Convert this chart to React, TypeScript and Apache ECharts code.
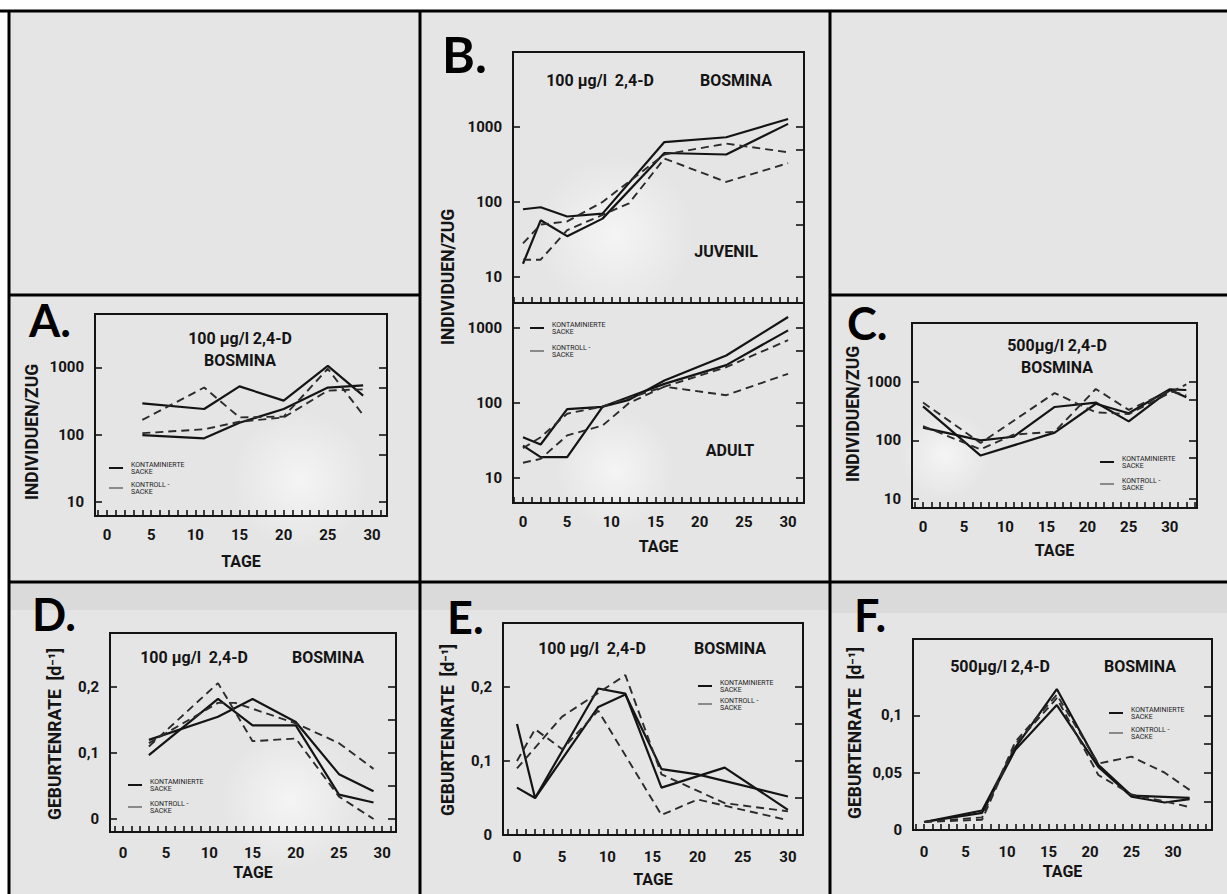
import React, { useEffect, useRef } from 'react';
import * as echarts from 'echarts';

const W = 1227;
const H = 894;
const FONT = "Roboto, 'DejaVu Sans', sans-serif";
const INK = '#141414';

// legend entries
const KONT = 'KONTAMINIERTE\nSACKE';
const KONTR = 'KONTROLL -\nSACKE';

// day axis
const dayLabels = [0, 5, 10, 15, 20, 25, 30];
const dayTicks = [-1, 0, 1, 2, 3, 4, 5, 6, 7, 8, 9, 10, 11, 12, 13, 14, 15, 16, 17, 18, 19, 20, 21, 22, 23, 24, 25, 26, 27, 28, 29, 30, 31, 32, 33, 34];

// count axes (Individuen/Zug, logarithmic)
const countLabels = [10, 100, 1000];
const countRightTicks = [10, 50, 100, 500, 1000];

// birth-rate axes (Geburtenrate)
const rateLabelsDE = [0, 0.1, 0.2];
const rateRightTicksD = [0, 0.05, 0.1, 0.15, 0.2];
const rateRightTicksE = [0.05, 0.1, 0.15, 0.2];
const rateLabelsF = [0, 0.05, 0.1];
const rateRightTicksF = [0.025, 0.05, 0.075, 0.1, 0.125];

// A: 100 µg/l, Bosmina, Individuen/Zug
const daysA = [4, 11, 15, 20, 25, 29];
const aKont1 = [290, 240, 520, 320, 1050, 380];
const aKont2 = [98, 88, 150, 240, 500, 540];
const aKontr1 = [165, 500, 180, 185, 950, 195];
const aKontr2 = [105, 120, 155, 180, 450, 470];

// B: 100 µg/l, Bosmina, juvenil / adult
const daysB = [0, 2, 5, 9, 12, 16, 23, 30];
const bJuvKont1 = [80, 85, 64, 70, null, 630, 730, 1280];
const bJuvKont2 = [15, 57, 35, 60, null, 450, 430, 1100];
const bJuvKontr1 = [28, 50, 55, 100, null, 430, 600, 460];
const bJuvKontr2 = [17, 17, 42, null, 96, 380, 185, 330];
const bAdKont1 = [35, 28, 83, 89, 110, 200, 430, 1400];
const bAdKont2 = [27, 19, 19, 89, null, 180, 320, 930];
const bAdKontr1 = [25, 35, 72, 90, null, 165, 300, 690];
const bAdKontr2 = [16, 18, 37, 50, 100, 165, 127, 245];

// C: 500 µg/l, Bosmina, Individuen/Zug
const daysC = [0, 7, 11, 16, 21, 25, 30, 32];
const cKont1 = [165, 100, 115, 370, 440, 210, 720, 540];
const cKont2 = [380, 55, null, 135, 420, 290, 740, 720];
const cKontr1 = [440, 90, null, 640, 300, 280, null, 900];
const cKontr2 = [175, 70, 125, 140, 750, 330, 700, 580];

// D: 100 µg/l, Geburtenrate
const daysD = [3, 11, 13, 15, 20, 25, 29];
const dKont1 = [0.097, 0.182, null, 0.142, 0.142, 0.037, 0.025];
const dKont2 = [0.12, 0.155, null, 0.182, 0.147, 0.068, 0.042];
const dKontr1 = [0.11, 0.206, null, 0.118, 0.122, 0.034, 0.0];
const dKontr2 = [0.115, 0.176, 0.176, null, 0.145, 0.115, 0.076];

// E: 100 µg/l, Geburtenrate
const daysE = [0, 2, 5, 9, 12, 16, 20, 23, 30];
const eKont1 = [0.15, 0.05, null, 0.198, 0.191, 0.064, null, 0.091, 0.034];
const eKont2 = [0.064, 0.05, null, 0.173, 0.19, 0.089, 0.082, null, 0.052];
const eKontr1 = [0.1, 0.143, 0.116, 0.168, null, 0.027, 0.048, null, 0.02];
const eKontr2 = [0.09, null, 0.16, null, 0.216, 0.082, null, 0.043, 0.032];

// F: 500 µg/l, Geburtenrate
const daysF = [0, 7, 11, 16, 21, 25, 29, 32];
const fKont1 = [0.007, 0.017, 0.072, 0.123, 0.057, 0.03, null, 0.028];
const fKont2 = [0.007, 0.015, 0.07, 0.109, 0.055, 0.029, 0.024, 0.027];
const fKontr1 = [0.007, 0.011, 0.077, 0.118, 0.058, 0.064, 0.05, 0.035];
const fKontr2 = [0.007, 0.009, 0.075, 0.115, 0.048, 0.031, 0.025, 0.02];

type Panel = {
  grid: { left: number; top: number; width: number; height: number };
  x: [number, number];
  y: [number, number];
  log: boolean;
  yLabels: number[];
  yRight: number[];
  xLabels: boolean;
  labelMargin: number;
  nameGap: number;
  days: number[];
  lines: [string, boolean, (number | null)[]][];
};

const lg = (v: number) => Math.log10(v);

const panels: Panel[] = [
  {
    grid: { left: 95, top: 314, width: 292, height: 202 }, x: [-1.36, 31.7], y: [0.791, 3.791], log: true,
    yLabels: countLabels, yRight: countRightTicks, xLabels: true, labelMargin: 11, nameGap: 37, days: daysA,
    lines: [[KONT, false, aKont1], [KONT, false, aKont2], [KONTR, true, aKontr1], [KONTR, true, aKontr2]],
  },
  {
    grid: { left: 513, top: 52, width: 291, height: 251 }, x: [-1.13, 31.8], y: [0.653, 4.0], log: true,
    yLabels: countLabels, yRight: countRightTicks, xLabels: false, labelMargin: 11, nameGap: 35, days: daysB,
    lines: [[KONT, false, bJuvKont1], [KONT, false, bJuvKont2], [KONTR, true, bJuvKontr1], [KONTR, true, bJuvKontr2]],
  },
  {
    grid: { left: 513, top: 303, width: 291, height: 200 }, x: [-1.13, 31.8], y: [0.667, 3.333], log: true,
    yLabels: countLabels, yRight: countRightTicks, xLabels: true, labelMargin: 11, nameGap: 35, days: daysB,
    lines: [[KONT, false, bAdKont1], [KONT, false, bAdKont2], [KONTR, true, bAdKontr1], [KONTR, true, bAdKontr2]],
  },
  {
    grid: { left: 912, top: 323, width: 285, height: 185 }, x: [-1.34, 33.3], y: [0.846, 4.0], log: true,
    yLabels: countLabels, yRight: countRightTicks, xLabels: true, labelMargin: 11, nameGap: 34, days: daysC,
    lines: [[KONT, false, cKont1], [KONT, false, cKont2], [KONTR, true, cKontr1], [KONTR, true, cKontr2]],
  },
  {
    grid: { left: 110, top: 633, width: 286, height: 199 }, x: [-1.5, 31.6], y: [-0.0197, 0.282], log: false,
    yLabels: rateLabelsDE, yRight: rateRightTicksD, xLabels: true, labelMargin: 13, nameGap: 32, days: daysD,
    lines: [[KONT, false, dKont1], [KONT, false, dKont2], [KONTR, true, dKontr1], [KONTR, true, dKontr2]],
  },
  {
    grid: { left: 503, top: 623, width: 300, height: 212 }, x: [-1.55, 31.67], y: [0, 0.2865], log: false,
    yLabels: rateLabelsDE, yRight: rateRightTicksE, xLabels: true, labelMargin: 14, nameGap: 36, days: daysE,
    lines: [[KONT, false, eKont1], [KONT, false, eKont2], [KONTR, true, eKontr1], [KONTR, true, eKontr2]],
  },
  {
    grid: { left: 913, top: 639, width: 299, height: 191 }, x: [-1.33, 34.7], y: [0, 0.1667], log: false,
    yLabels: rateLabelsF, yRight: rateRightTicksF, xLabels: true, labelMargin: 14, nameGap: 33, days: daysF,
    lines: [[KONT, false, fKont1], [KONT, false, fKont2], [KONTR, true, fKontr1], [KONTR, true, fKontr2]],
  },
];

const legendSpots = [
  { left: 109, top: 461, itemGap: 6 },
  { left: 530, top: 321, itemGap: 9 },
  { left: 1100, top: 455, itemGap: 8 },
  { left: 128, top: 778, itemGap: 8 },
  { left: 698, top: 679, itemGap: 4 },
  { left: 1109, top: 706, itemGap: 6 },
];

const titles: [string, number, number][] = [
  ['100 µg/l 2,4-D', 240, 338], ['BOSMINA', 240, 360],
  ['100 µg/l  2,4-D', 600, 80], ['BOSMINA', 736, 80],
  ['500µg/l 2,4-D', 1057, 345], ['BOSMINA', 1057, 367],
  ['100 µg/l  2,4-D', 194, 657], ['BOSMINA', 328, 657],
  ['100 µg/l  2,4-D', 592, 648], ['BOSMINA', 730, 648],
  ['500µg/l 2,4-D', 1000, 666], ['BOSMINA', 1140, 666],
  ['JUVENIL', 726, 251], ['ADULT', 730, 450],
];

const yNames: [string, number, number][] = [
  ['INDIVIDUEN/ZUG', 32, 432],
  ['INDIVIDUEN/ZUG', 448, 277],
  ['INDIVIDUEN/ZUG', 853, 414],
  ['GEBURTENRATE  [d⁻¹]', 55, 734],
  ['GEBURTENRATE  [d⁻¹]', 448, 730],
  ['GEBURTENRATE  [d⁻¹]', 855, 733],
];

const letters: [string, number, number, number][] = [
  ['A.', 29, 320, 45], ['B.', 442, 54, 50], ['C.', 847, 323, 45],
  ['D.', 32, 614, 45], ['E.', 447, 617, 45], ['F.', 854, 615, 45],
];

const cells = [
  [9, 11, 411, 284], [420, 11, 410, 571], [830, 11, 397, 284],
  [9, 295, 411, 287], [830, 295, 397, 287],
  [9, 582, 411, 312], [420, 582, 410, 312], [830, 582, 397, 312],
];

// soft light patches on the photographed prints
const glows = [
  [300, 480, 70], [615, 235, 80], [615, 470, 60], [945, 455, 45], [290, 800, 70],
];

const borders = [
  [0, 11, W, 11], [9, 11, 9, H], [420, 11, 420, H], [830, 11, 830, H],
  [9, 295, 420, 295], [830, 295, W, 295], [9, 582, W, 582],
];

function formatRate(v: number) {
  return v === 0 ? '0' : String(v).replace('.', ',');
}

function buildOption() {
  const grid: any[] = [];
  const xAxis: any[] = [];
  const yAxis: any[] = [];
  const series: any[] = [];
  const tickFont = { fontFamily: FONT, fontWeight: 'bold', fontSize: 15, color: INK };

  panels.forEach((p, g) => {
    grid.push({ ...p.grid, show: true, borderColor: INK, borderWidth: 2, backgroundColor: 'transparent' });
    xAxis.push({
      gridIndex: g, type: 'value', position: 'bottom', min: p.x[0], max: p.x[1],
      axisLine: { show: false, onZero: false }, splitLine: { show: false },
      axisTick: { show: true, inside: true, length: 6, customValues: dayTicks, lineStyle: { color: INK, width: 1.6 } },
      axisLabel: { show: p.xLabels, customValues: dayLabels, margin: p.labelMargin, ...tickFont },
      name: p.xLabels ? 'TAGE' : '', nameLocation: 'middle', nameGap: p.nameGap,
      nameTextStyle: { fontFamily: FONT, fontWeight: 'bold', fontSize: 16, color: INK },
    });
    const conv = (v: number) => (p.log ? lg(v) : v);
    yAxis.push({
      gridIndex: g, type: 'value', position: 'left', min: p.y[0], max: p.y[1],
      axisLine: { show: false, onZero: false }, splitLine: { show: false },
      axisTick: { show: true, inside: true, length: 7, customValues: p.yLabels.map(conv), lineStyle: { color: INK, width: 1.6 } },
      axisLabel: {
        customValues: p.yLabels.map(conv), margin: 11, ...tickFont,
        formatter: (v: number) => (p.log ? String(Math.round(Math.pow(10, v))) : formatRate(Math.round(v * 1000) / 1000)),
      },
    });
    yAxis.push({
      gridIndex: g, type: 'value', position: 'right', min: p.y[0], max: p.y[1],
      axisLine: { show: false, onZero: false }, splitLine: { show: false },
      axisTick: { show: true, inside: true, length: 8, customValues: p.yRight.map(conv), lineStyle: { color: INK, width: 1.6 } },
      axisLabel: { show: false },
    });
    p.lines.forEach(([name, dashed, vals]) => {
      const data = p.days
        .map((d, i) => [d, vals[i]])
        .filter((pt) => pt[1] !== null && pt[1] !== undefined)
        .map((pt) => [pt[0] as number, conv(pt[1] as number)]);
      series.push({
        type: 'line', name, xAxisIndex: g, yAxisIndex: g * 2, data,
        symbol: 'none', showSymbol: false, silent: true, color: INK,
        lineStyle: dashed
          ? { color: '#2b2b2b', width: 1.9, type: [8, 5] }
          : { color: INK, width: 2.2 },
      });
    });
  });

  const legend = legendSpots.map((s) => ({
    orient: 'vertical', left: s.left, top: s.top, itemGap: s.itemGap,
    itemWidth: 14, itemHeight: 2, selectedMode: false, padding: 0,
    textStyle: { fontFamily: FONT, fontSize: 7, lineHeight: 7, color: '#222', padding: [0, 0, 0, 3] },
    data: [
      { name: KONT, icon: 'rect', itemStyle: { color: INK, borderWidth: 0 } },
      { name: KONTR, icon: 'rect', itemStyle: { color: '#8a8a8a', borderWidth: 0 } },
    ],
  }));

  const graphic: any[] = [];
  cells.forEach(([x, y, w, h]) => {
    graphic.push({ type: 'rect', z: -10, silent: true, shape: { x, y, width: w, height: h }, style: { fill: '#e5e5e5' } });
  });
  [[10, 583, 410, 27], [421, 583, 409, 27], [831, 583, 396, 30]].forEach(([x, y, w, h]) => {
    graphic.push({ type: 'rect', z: -9, silent: true, shape: { x, y, width: w, height: h }, style: { fill: '#dadada' } });
  });
  glows.forEach(([cx, cy, r]) => {
    graphic.push({
      type: 'circle', z: -9, silent: true, shape: { cx, cy, r },
      style: {
        fill: new echarts.graphic.RadialGradient(0.5, 0.5, 0.5, [
          { offset: 0, color: 'rgba(255,255,255,0.6)' },
          { offset: 1, color: 'rgba(255,255,255,0)' },
        ]),
      },
    });
  });
  borders.forEach(([x1, y1, x2, y2]) => {
    graphic.push({ type: 'line', z: -8, silent: true, shape: { x1, y1, x2, y2 }, style: { stroke: '#000', lineWidth: 3 } });
  });
  letters.forEach(([t, x, y, fs]) => {
    graphic.push({
      type: 'text', x, y, silent: true,
      style: { text: t, fontFamily: "Lato, 'Open Sans', sans-serif", fontWeight: 'bold', fontSize: fs, fill: '#000', align: 'left', verticalAlign: 'middle' },
    });
  });
  titles.forEach(([t, x, y]) => {
    graphic.push({
      type: 'text', x, y, silent: true,
      style: { text: t, fontFamily: FONT, fontWeight: 'bold', fontSize: 16, fill: INK, align: 'center', verticalAlign: 'middle' },
    });
  });
  yNames.forEach(([t, x, y]) => {
    graphic.push({
      type: 'text', x, y, rotation: Math.PI / 2, silent: true,
      style: { text: t, fontFamily: FONT, fontWeight: 'bold', fontSize: 17.5, fill: INK, align: 'center', verticalAlign: 'middle' },
    });
  });

  return {
    animation: false,
    backgroundColor: '#ffffff',
    grid, xAxis, yAxis, series, legend, graphic,
  };
}

export default function App() {
  const ref = useRef<HTMLDivElement>(null);
  useEffect(() => {
    const chart = echarts.init(ref.current!, null, { renderer: 'svg' });
    chart.setOption(buildOption() as any);
    return () => chart.dispose();
  }, []);
  return <div ref={ref} style={{ position: 'fixed', left: 0, top: 0, width: W, height: H }} />;
}
